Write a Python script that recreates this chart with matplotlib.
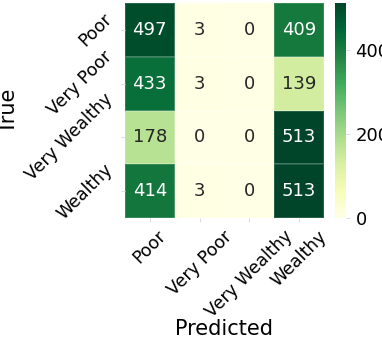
import matplotlib
matplotlib.use("Agg")
import matplotlib.pyplot as plt
import seaborn as sns
import numpy as np

labels = ["Poor", "Very Poor", "Very Wealthy", "Wealthy"]
row_poor = [497, 3, 0, 409]
row_very_poor = [433, 3, 0, 139]
row_very_wealthy = [178, 0, 0, 513]
row_wealthy = [414, 3, 0, 513]

cm = np.array([row_poor, row_very_poor, row_very_wealthy, row_wealthy])

fig = plt.figure(figsize=(3.82, 3.44), dpi=100)
ax = fig.add_axes([0.327, 0.366, 0.521, 0.625])
cax = fig.add_axes([0.877, 0.366, 0.030, 0.625])

sns.heatmap(cm, annot=True, fmt="d", cmap="YlGn", ax=ax, cbar_ax=cax,
            xticklabels=labels, yticklabels=labels,
            annot_kws={"fontsize": 13}, linewidths=0.3, linecolor=(1, 1, 1, 0.15))

ax.set_xlabel("Predicted", fontsize=15)
ax.set_ylabel("True", fontsize=15)
ax.xaxis.set_label_coords(0.5, -0.47)
ax.yaxis.set_label_coords(-0.53, 0.5)
ax.tick_params(axis="x", labelsize=12.5, length=3, color="#dddddd")
ax.tick_params(axis="y", labelsize=12.5, length=3, color="#dddddd")
plt.setp(ax.get_xticklabels(), rotation=45, ha="center")
plt.setp(ax.get_yticklabels(), rotation=45, ha="right", va="center")
cax.tick_params(labelsize=13, length=3, color="#dddddd")
cax.set_yticks([0, 200, 400])

fig.savefig("out.png", dpi=100)
